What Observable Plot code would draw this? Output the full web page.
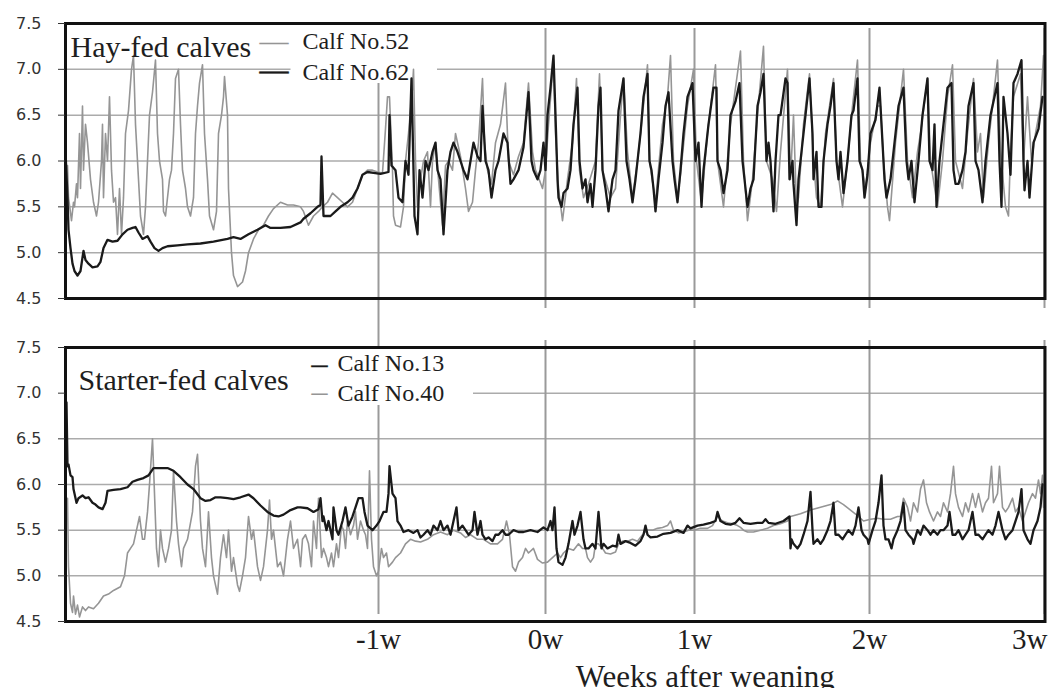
<!DOCTYPE html>
<html><head><meta charset="utf-8">
<script src="https://cdn.jsdelivr.net/npm/d3@7"></script>
<script src="https://cdn.jsdelivr.net/npm/@observablehq/plot@0.6"></script>
<style>
body{margin:0;background:#fff;}
#chart{position:relative;width:1051px;height:688px;background:#fff;}
#chart svg{position:absolute;left:0;overflow:visible;}
</style></head>
<body><div id="chart"></div>
<script>
// x: hours relative to weaning (recording time), y: ruminal pH
const weekTicks = [-167, 0, 149, 324, 499];
const weekLabels = ["-1w", "0w", "1w", "2w", "3w"];
const phTicks = [4.5, 5.0, 5.5, 6.0, 6.5, 7.0, 7.5];
const gridValues = [5.0, 5.5, 6.0, 6.5];
const legendGridValue = [7.0];
const panelTitles = ["Hay-fed calves", "Starter-fed calves"];
const calfNames = ["Calf No.52", "Calf No.62", "Calf No.13", "Calf No.40"];
const xTitle = "Weeks after weaning";

const calf52 = [[-480,5.9],[-478,5.95],[-477,5.6],[-474,5.35],[-472,5.55],[-471,5.5],[-469,5.75],[-468,5.6],[-466,6.3],[-465,5.7],[-463,6.6],[-462,5.9],[-460,6.4],[-458,6.2],[-455,5.8],[-452,5.55],[-449,5.4],[-447,5.55],[-444,6.0],[-443,6.4],[-442,5.6],[-440,6.3],[-438,6.0],[-436,6.7],[-434,5.9],[-432,5.55],[-430,5.6],[-428,5.2],[-426,5.7],[-424,5.2],[-422,5.6],[-420,6.3],[-417,6.55],[-414,7.0],[-412,7.15],[-410,6.4],[-408,6.0],[-405,5.4],[-402,5.2],[-400,5.5],[-398,6.0],[-396,6.5],[-393,6.75],[-390,7.1],[-388,6.3],[-386,6.0],[-383,5.8],[-382,5.45],[-380,5.4],[-377,5.7],[-376,5.8],[-374,5.9],[-372,6.3],[-370,6.9],[-367,7.0],[-365,6.4],[-363,5.9],[-360,5.7],[-358,5.5],[-355,5.4],[-352,5.6],[-350,6.3],[-348,6.6],[-346,6.85],[-343,7.05],[-341,6.3],[-338,5.8],[-336,5.4],[-332,5.25],[-329,5.45],[-327,6.3],[-324,6.5],[-322,6.7],[-321,6.92],[-318,6.5],[-317,5.7],[-314,5.0],[-312,4.75],[-308,4.63],[-303,4.68],[-300,4.8],[-297,5.0],[-292,5.15],[-287,5.25],[-282,5.3],[-277,5.4],[-272,5.48],[-265,5.55],[-258,5.52],[-252,5.52],[-245,5.5],[-242,5.45],[-237,5.3],[-232,5.4],[-227,5.45],[-223,5.5],[-218,5.55],[-213,5.65],[-208,5.6],[-203,5.55],[-198,5.5],[-193,5.55],[-188,5.7],[-183,5.85],[-178,5.9],[-173,5.9],[-168,5.88],[-163,5.87],[-160,6.35],[-158,6.7],[-156,6.7],[-153,5.9],[-152,5.4],[-150,5.3],[-145,5.28],[-142,5.5],[-140,6.0],[-137,6.3],[-133,6.8],[-132,7.0],[-130,6.0],[-128,5.5],[-127,5.6],[-125,5.8],[-122,6.0],[-118,6.1],[-115,5.5],[-113,6.0],[-110,6.2],[-107,5.8],[-103,5.3],[-100,5.95],[-97,6.0],[-93,5.9],[-90,6.3],[-85,6.05],[-80,5.7],[-77,5.45],[-73,5.55],[-70,5.9],[-67,6.2],[-63,6.9],[-61,6.2],[-58,5.9],[-54,5.75],[-50,6.2],[-45,6.4],[-40,6.85],[-37,6.0],[-32,5.85],[-27,6.05],[-22,6.2],[-17,6.85],[-13,6.1],[-10,5.9],[-8,5.85],[-3,5.7],[0,5.9],[3,6.4],[8,7.1],[10,6.3],[13,5.7],[17,5.35],[22,5.8],[27,6.2],[31,6.9],[34,5.9],[38,5.6],[43,5.75],[50,6.0],[54,6.95],[57,5.9],[65,5.6],[70,5.7],[75,6.5],[78,6.9],[82,6.1],[87,5.6],[92,6.0],[97,6.5],[102,7.05],[104,6.0],[110,5.55],[117,6.4],[122,6.7],[125,7.15],[128,6.0],[132,5.6],[135,5.85],[142,6.6],[148,7.0],[151,6.0],[156,5.55],[162,6.3],[170,7.05],[172,6.0],[178,5.5],[185,6.4],[195,7.2],[198,6.0],[202,5.35],[207,5.8],[212,6.5],[218,7.25],[221,6.0],[227,5.8],[231,5.45],[235,6.1],[242,7.0],[245,5.8],[248,6.5],[251,5.5],[253,5.6],[258,6.4],[264,6.95],[268,6.0],[271,5.6],[275,5.5],[280,6.3],[288,6.9],[291,6.0],[297,5.5],[302,6.0],[307,6.6],[312,7.1],[315,6.0],[320,5.7],[325,6.2],[332,6.6],[335,6.6],[338,6.0],[342,5.5],[344,5.35],[350,6.2],[358,7.0],[362,6.0],[367,5.6],[372,6.1],[375,6.3],[382,6.9],[385,6.0],[392,5.5],[397,6.0],[402,6.7],[407,7.05],[410,6.0],[417,5.7],[422,6.3],[428,6.9],[432,6.1],[435,6.3],[438,5.6],[443,6.2],[452,7.1],[455,6.1],[460,5.5],[463,5.4],[465,6.1],[468,6.7],[475,6.95],[478,6.0],[482,6.7],[486,6.0],[490,6.3],[495,6.6],[498,7.15]];

const calf62 = [[-480,6.1],[-478,5.6],[-477,5.25],[-475,5.05],[-473,4.88],[-471,4.8],[-468,4.75],[-465,4.8],[-462,5.02],[-460,4.92],[-457,4.88],[-453,4.84],[-448,4.85],[-445,4.9],[-442,5.05],[-438,5.14],[-433,5.12],[-428,5.13],[-423,5.2],[-418,5.25],[-413,5.27],[-410,5.28],[-407,5.22],[-403,5.15],[-398,5.18],[-395,5.12],[-391,5.05],[-387,5.02],[-383,5.05],[-378,5.07],[-368,5.08],[-358,5.09],[-345,5.1],[-332,5.12],[-318,5.15],[-312,5.17],[-305,5.15],[-297,5.2],[-288,5.25],[-280,5.3],[-275,5.27],[-265,5.27],[-255,5.28],[-245,5.33],[-242,5.37],[-235,5.43],[-228,5.5],[-225,5.52],[-224,6.05],[-222,5.4],[-215,5.4],[-210,5.45],[-205,5.5],[-198,5.55],[-193,5.6],[-188,5.7],[-183,5.85],[-178,5.88],[-172,5.87],[-165,5.86],[-157,5.88],[-156,6.5],[-154,5.95],[-150,5.9],[-147,5.6],[-143,5.55],[-140,6.0],[-137,5.85],[-134,6.9],[-131,5.4],[-128,5.2],[-126,5.9],[-123,5.6],[-120,6.0],[-117,5.9],[-113,6.1],[-110,6.2],[-108,5.9],[-105,5.8],[-102,5.2],[-98,5.9],[-95,6.1],[-92,6.2],[-88,6.1],[-85,6.0],[-82,5.9],[-78,5.8],[-75,6.0],[-72,6.2],[-68,6.05],[-65,6.0],[-63,6.6],[-60,6.0],[-57,5.9],[-54,5.6],[-50,5.9],[-47,6.0],[-42,6.3],[-38,6.2],[-35,5.75],[-32,5.8],[-27,5.9],[-22,6.15],[-17,6.75],[-14,6.0],[-12,5.9],[-8,5.8],[-5,5.9],[-2,6.2],[0,5.9],[2,6.5],[5,6.8],[8,7.15],[10,6.5],[12,5.8],[13,5.6],[16,5.5],[18,5.65],[22,5.7],[25,5.9],[28,6.4],[32,6.8],[34,6.0],[37,5.7],[40,5.8],[42,5.55],[45,5.75],[47,5.5],[50,5.9],[53,6.6],[55,6.8],[57,5.9],[60,5.7],[63,5.45],[67,5.8],[70,5.9],[73,6.55],[78,6.9],[81,6.0],[84,5.8],[87,5.55],[90,5.8],[95,6.3],[98,6.7],[102,6.95],[104,6.0],[106,5.9],[108,5.7],[110,5.45],[113,5.8],[117,6.2],[120,6.6],[123,6.75],[127,6.0],[129,5.8],[132,5.55],[135,5.9],[138,6.3],[142,6.7],[147,6.85],[150,6.0],[153,6.2],[156,5.5],[158,5.9],[163,6.4],[168,6.8],[171,6.8],[172,6.0],[175,5.9],[178,5.65],[182,5.9],[185,6.5],[190,6.65],[194,6.85],[197,6.0],[200,5.7],[202,5.5],[205,5.7],[208,5.8],[212,6.6],[215,6.75],[218,6.95],[221,6.0],[223,6.2],[225,6.0],[228,5.45],[230,6.0],[233,6.5],[235,6.5],[240,6.9],[242,6.85],[244,5.8],[247,6.0],[248,5.75],[251,5.3],[253,5.8],[257,6.2],[260,6.5],[264,6.9],[267,6.3],[268,5.8],[271,6.1],[273,5.5],[276,5.5],[278,6.0],[282,6.4],[285,6.6],[288,6.85],[291,6.0],[293,5.8],[295,6.1],[298,5.65],[302,6.0],[306,6.5],[308,6.55],[312,6.9],[314,6.0],[317,5.9],[319,5.6],[322,5.85],[325,6.3],[330,6.45],[334,6.8],[337,6.2],[339,5.8],[341,5.6],[345,5.8],[350,6.3],[353,6.6],[358,6.8],[361,6.0],[363,5.8],[366,6.0],[369,5.55],[373,6.0],[377,6.5],[382,6.9],[384,6.0],[387,5.9],[389,6.4],[391,5.5],[394,6.0],[398,6.4],[402,6.8],[406,6.85],[408,5.9],[410,5.75],[413,5.75],[417,5.9],[420,6.1],[423,6.6],[428,6.85],[430,6.0],[433,5.9],[437,5.55],[440,6.0],[445,6.5],[452,6.85],[454,6.0],[456,5.5],[458,6.7],[462,6.3],[465,5.85],[468,6.85],[472,6.95],[476,7.1],[478,6.0],[479,5.68],[482,6.0],[484,5.6],[488,6.2],[493,6.35],[497,6.7]];

const calf13 = [[-479,6.9],[-478,6.2],[-477,6.22],[-475,6.1],[-473,6.08],[-472,5.95],[-469,5.8],[-467,5.85],[-463,5.88],[-460,5.85],[-457,5.86],[-453,5.8],[-450,5.78],[-447,5.75],[-443,5.73],[-440,5.8],[-438,5.93],[-432,5.94],[-425,5.95],[-418,5.97],[-413,6.03],[-408,6.05],[-402,6.07],[-397,6.1],[-392,6.18],[-385,6.18],[-378,6.18],[-372,6.15],[-365,6.08],[-358,6.0],[-352,5.95],[-345,5.85],[-340,5.82],[-335,5.83],[-330,5.86],[-325,5.86],[-318,5.85],[-312,5.84],[-305,5.86],[-297,5.89],[-292,5.85],[-285,5.77],[-278,5.7],[-272,5.66],[-267,5.65],[-262,5.67],[-255,5.72],[-248,5.75],[-245,5.75],[-238,5.74],[-232,5.7],[-227,5.73],[-225,5.85],[-223,5.6],[-222,5.65],[-219,5.5],[-217,5.6],[-213,5.4],[-212,5.75],[-209,5.5],[-207,5.45],[-203,5.6],[-200,5.75],[-197,5.55],[-193,5.65],[-190,5.75],[-187,5.85],[-183,5.85],[-181,5.7],[-178,5.55],[-173,5.5],[-169,5.55],[-166,5.6],[-162,5.7],[-159,5.7],[-157,5.9],[-156,6.2],[-153,5.9],[-150,5.85],[-148,5.6],[-145,5.55],[-142,5.48],[-137,5.5],[-132,5.47],[-128,5.5],[-125,5.42],[-122,5.45],[-118,5.5],[-115,5.45],[-112,5.55],[-108,5.5],[-105,5.6],[-102,5.5],[-98,5.55],[-95,5.45],[-92,5.6],[-89,5.75],[-87,5.5],[-83,5.55],[-80,5.5],[-77,5.45],[-73,5.5],[-71,5.7],[-68,5.45],[-65,5.6],[-63,5.45],[-60,5.4],[-57,5.42],[-53,5.38],[-50,5.45],[-47,5.45],[-43,5.5],[-40,5.45],[-37,5.45],[-32,5.5],[-27,5.48],[-22,5.48],[-15,5.5],[-8,5.48],[-2,5.53],[2,5.5],[5,5.6],[7,5.5],[9,5.75],[11,5.3],[13,5.15],[17,5.12],[20,5.2],[23,5.35],[27,5.6],[29,5.45],[32,5.55],[35,5.7],[38,5.4],[40,5.3],[43,5.3],[47,5.35],[50,5.3],[53,5.7],[56,5.3],[58,5.35],[62,5.3],[67,5.33],[71,5.32],[73,5.45],[75,5.35],[80,5.38],[85,5.36],[90,5.33],[95,5.38],[98,5.45],[100,5.55],[102,5.45],[105,5.42],[112,5.43],[118,5.46],[125,5.47],[132,5.5],[138,5.47],[142,5.55],[145,5.52],[152,5.55],[158,5.56],[165,5.58],[170,5.6],[172,5.7],[175,5.6],[180,5.57],[185,5.56],[190,5.58],[194,5.63],[198,5.58],[205,5.57],[212,5.58],[217,5.58],[220,5.62],[223,5.58],[230,5.57],[238,5.6],[244,5.65],[245,5.3],[246,5.4],[248,5.35],[252,5.3],[255,5.35],[258,5.45],[262,5.6],[265,5.92],[267,5.5],[268,5.35],[272,5.4],[275,5.35],[278,5.4],[282,5.5],[285,5.6],[288,5.8],[290,5.45],[293,5.45],[297,5.4],[300,5.45],[303,5.5],[307,5.45],[310,5.55],[313,5.75],[316,5.5],[318,5.45],[322,5.4],[323,5.35],[327,5.5],[330,5.6],[333,5.8],[336,6.1],[338,5.55],[340,5.4],[343,5.4],[346,5.3],[348,5.4],[352,5.5],[355,5.6],[358,5.8],[360,5.5],[363,5.45],[367,5.4],[368,5.35],[372,5.5],[375,5.45],[378,5.55],[382,5.5],[385,5.45],[388,5.5],[392,5.45],[395,5.5],[398,5.5],[402,5.55],[404,5.7],[407,5.45],[410,5.45],[413,5.5],[417,5.4],[420,5.45],[423,5.5],[427,5.7],[430,5.45],[433,5.45],[437,5.4],[440,5.45],[443,5.5],[447,5.45],[450,5.55],[453,5.7],[457,5.5],[460,5.4],[463,5.45],[467,5.5],[470,5.6],[473,5.7],[476,5.95],[478,5.5],[482,5.4],[485,5.35],[488,5.5],[492,5.6],[495,5.75],[497,6.0]];

const calf40 = [[-478,5.85],[-477,5.1],[-475,4.7],[-473,4.6],[-472,4.78],[-470,4.58],[-468,4.68],[-466,4.55],[-463,4.66],[-460,4.62],[-457,4.66],[-452,4.64],[-447,4.7],[-442,4.78],[-437,4.8],[-432,4.84],[-425,4.88],[-421,5.0],[-418,5.25],[-415,5.3],[-412,5.35],[-408,5.55],[-406,5.65],[-403,5.4],[-401,5.4],[-398,5.7],[-396,6.0],[-393,6.5],[-391,5.9],[-389,5.3],[-387,5.1],[-385,5.5],[-383,5.3],[-380,5.15],[-377,5.3],[-374,5.5],[-372,6.15],[-369,5.6],[-367,5.35],[-364,5.1],[-362,5.3],[-358,5.4],[-353,5.7],[-350,6.2],[-348,6.33],[-345,5.6],[-343,5.3],[-340,5.1],[-337,5.7],[-334,5.2],[-332,5.0],[-328,4.8],[-325,5.2],[-322,5.45],[-319,5.2],[-317,5.5],[-314,5.05],[-312,5.2],[-308,4.9],[-306,4.83],[-303,5.0],[-300,5.2],[-297,5.65],[-294,5.4],[-292,5.5],[-288,5.1],[-285,4.95],[-282,5.1],[-278,5.5],[-276,5.83],[-274,5.4],[-272,5.5],[-268,5.1],[-265,5.15],[-262,5.0],[-258,5.4],[-255,5.6],[-252,5.3],[-248,5.4],[-245,5.1],[-243,5.4],[-240,5.45],[-237,5.35],[-234,5.1],[-232,5.6],[-229,5.3],[-227,5.85],[-224,5.2],[-222,5.3],[-219,5.2],[-217,5.1],[-214,5.25],[-212,5.1],[-209,5.35],[-207,5.2],[-204,5.55],[-202,5.5],[-200,5.3],[-198,5.6],[-195,5.45],[-192,5.55],[-190,5.7],[-188,5.4],[-185,5.6],[-182,5.5],[-180,5.45],[-178,5.3],[-176,6.15],[-174,5.4],[-172,5.1],[-169,5.0],[-167,5.05],[-164,5.3],[-162,5.2],[-159,5.25],[-157,5.1],[-153,5.15],[-150,5.2],[-145,5.25],[-140,5.35],[-135,5.4],[-130,5.38],[-125,5.37],[-118,5.4],[-112,5.45],[-105,5.48],[-98,5.45],[-92,5.5],[-85,5.47],[-80,5.42],[-75,5.45],[-68,5.4],[-62,5.4],[-55,5.35],[-48,5.35],[-43,5.4],[-39,5.6],[-36,5.45],[-33,5.1],[-30,5.05],[-27,5.15],[-23,5.2],[-20,5.3],[-17,5.25],[-12,5.3],[-8,5.18],[-3,5.14],[2,5.15],[7,5.2],[12,5.25],[15,5.2],[18,5.25],[23,5.3],[28,5.28],[33,5.35],[37,5.3],[40,5.3],[42,5.2],[45,5.15],[48,5.2],[50,5.35],[53,5.35],[57,5.3],[60,5.25],[65,5.24],[70,5.26],[73,5.35],[77,5.38],[82,5.38],[87,5.4],[92,5.38],[97,5.45],[102,5.5],[107,5.5],[112,5.52],[117,5.53],[122,5.55],[125,5.6],[128,5.5],[133,5.47],[138,5.48],[143,5.5],[148,5.5],[155,5.52],[162,5.52],[167,5.55],[172,5.65],[177,5.6],[182,5.58],[187,5.57],[192,5.55],[195,5.53],[198,5.5],[202,5.48],[208,5.48],[215,5.5],[222,5.52],[228,5.55],[235,5.57],[242,5.6],[245,5.65],[255,5.68],[265,5.72],[275,5.75],[285,5.78],[292,5.82],[298,5.78],[305,5.72],[312,5.66],[318,5.6],[325,5.62],[332,5.63],[338,5.62],[345,5.62],[352,5.65],[355,5.65],[358,5.85],[362,5.75],[365,5.6],[368,5.8],[372,5.7],[375,5.95],[378,6.05],[381,5.8],[384,5.7],[388,5.6],[392,5.7],[395,5.65],[398,5.8],[402,5.7],[405,5.9],[408,6.2],[410,5.9],[413,5.75],[417,5.65],[420,5.8],[423,5.7],[427,5.9],[430,5.75],[433,5.9],[437,5.7],[440,5.8],[443,5.85],[446,6.2],[448,5.8],[452,5.9],[454,6.2],[457,5.75],[460,5.7],[463,5.75],[467,5.85],[470,5.7],[473,5.75],[477,5.6],[480,5.7],[483,5.8],[487,5.9],[490,5.85],[493,6.05],[495,5.9],[497,6.1],[498,5.75]];

const W = 1051;
const SERIF = "'Liberation Serif','Times New Roman',serif";
const SANS = "'DejaVu Sans',Verdana,sans-serif";
const GRAY = "#959595", BLACK = "#1a1a1a", GRID = "#ababab", WEEK = "#9a9a9a", TXT = "#1e1e1e";

function base(height, marginTop, marginBottom) {
  return {
    width: W, height, marginLeft: 65, marginRight: 6.5, marginTop, marginBottom,
    x: {domain: [-480, 499.5], axis: null},
    y: {domain: [4.5, 7.5], axis: null},
    style: {background: "transparent", overflow: "visible"}
  };
}
const line = (data, stroke, w) => Plot.line(data, {x: d => d[0], y: d => d[1], stroke, strokeWidth: w, strokeLinejoin: "round"});
const yAxis = () => Plot.axisY(phTicks, {tickFormat: d3.format(".1f"), tickSize: 7, tickPadding: 17, fontSize: 16, fontFamily: SANS, color: "#333", label: null});
const txt = (s, o) => Plot.text([s], {text: d => d, frameAnchor: "top-left", textAnchor: "start", lineAnchor: "middle", fontFamily: SERIF, fill: TXT, ...o});

const topChart = Plot.plot({
  ...base(322, 23, 24),
  marks: [
    Plot.ruleY(gridValues, {stroke: GRID, strokeWidth: 1.5}),
    Plot.ruleY(legendGridValue, {stroke: GRID, strokeWidth: 1.5, insetRight: 754}),
    Plot.ruleY(legendGridValue, {stroke: GRID, strokeWidth: 1.5, insetLeft: 372}),
    Plot.ruleX(weekTicks.slice(1), {stroke: WEEK, strokeWidth: 2, insetTop: 5, insetBottom: -10}),
    Plot.ruleX(weekTicks.slice(0, 1), {stroke: WEEK, strokeWidth: 2, insetTop: 60, insetBottom: -24}),
    line(calf52, GRAY, 1.6),
    line(calf62, BLACK, 2.3),
    Plot.frame({stroke: "#111", strokeWidth: 3}),
    yAxis(),
    txt(panelTitles[0], {fontSize: 30, dx: 5, dy: 24}),
    txt("\u2014", {fontSize: 29, dx: 194, dy: 18, fill: GRAY}),
    txt("\u2014", {fontSize: 29, dx: 194, dy: 47, fill: BLACK, stroke: BLACK, strokeWidth: 0.5}),
    txt(calfNames[0], {fontSize: 24, dx: 237, dy: 18}),
    txt(calfNames[1], {fontSize: 24, dx: 237, dy: 49})
  ]
});

const bottomChart = Plot.plot({
  ...base(366, 25, 67),
  marks: [
    Plot.ruleY(gridValues, {stroke: GRID, strokeWidth: 1.5}),
    Plot.ruleY(legendGridValue, {stroke: GRID, strokeWidth: 1.5, insetLeft: 408}),
    Plot.ruleX(weekTicks.slice(1), {stroke: WEEK, strokeWidth: 2, insetTop: -7, insetBottom: 7}),
    Plot.ruleX(weekTicks.slice(0, 1), {stroke: WEEK, strokeWidth: 2, insetTop: -25, insetBottom: 274}),
    Plot.ruleX(weekTicks.slice(0, 1), {stroke: WEEK, strokeWidth: 2, insetTop: 58, insetBottom: 7}),
    line(calf40, GRAY, 1.6),
    line(calf13, BLACK, 2.3),
    Plot.frame({stroke: "#111", strokeWidth: 3}),
    yAxis(),
    txt(panelTitles[1], {fontSize: 30, dx: 13, dy: 33}),
    txt("\u2013", {fontSize: 32, dx: 246, dy: 16, fill: BLACK, stroke: BLACK, strokeWidth: 0.4}),
    txt("\u2013", {fontSize: 32, dx: 246, dy: 44, fill: GRAY}),
    txt(calfNames[2], {fontSize: 24, dx: 272, dy: 16}),
    txt(calfNames[3], {fontSize: 24, dx: 272, dy: 46}),
    Plot.text(weekTicks.slice(0, 4), {x: d => d, text: (d, i) => weekLabels[i], frameAnchor: "bottom", lineAnchor: "middle", dy: 18, fontSize: 29, fontFamily: SERIF, fill: TXT}),
    Plot.text(weekTicks.slice(4), {x: d => d, text: () => weekLabels[4], frameAnchor: "bottom", lineAnchor: "middle", textAnchor: "end", dx: 3, dy: 18, fontSize: 29, fontFamily: SERIF, fill: TXT}),
    Plot.text([xTitle], {text: d => d, frameAnchor: "bottom", lineAnchor: "middle", dx: 150, dy: 56, fontSize: 31, fontFamily: SERIF, fill: TXT})
  ]
});

topChart.style.top = "0px";
bottomChart.style.top = "322px";
const chart = document.getElementById("chart");
chart.appendChild(topChart);
chart.appendChild(bottomChart);
</script>
</body></html>
